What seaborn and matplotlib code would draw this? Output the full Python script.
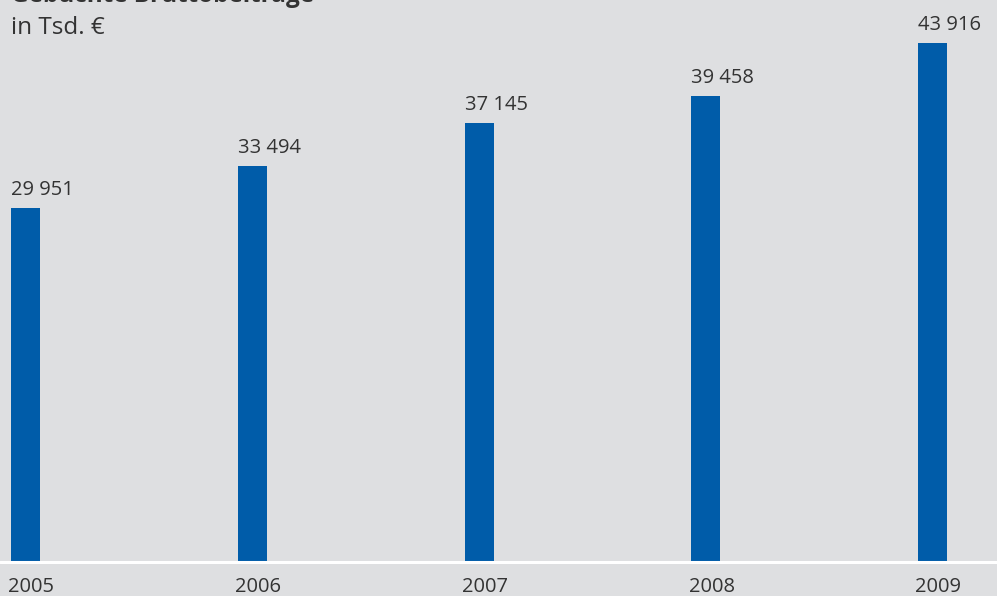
import pandas as pd
import matplotlib.pyplot as plt
import seaborn as sns

# Gebuchte Bruttobeiträge in Tsd. €
years = ["2005", "2006", "2007", "2008", "2009"]
values = [29951, 33494, 37145, 39458, 43916]
value_labels = ["29 951", "33 494", "37 145", "39 458", "43 916"]

df = pd.DataFrame({"Jahr": years, "Wert": values})

bg = "#dedfe1"
blue = "#005ca9"
text_col = "#333333"

sns.set_theme(style="white")
plt.rcParams["font.family"] = ["Open Sans", "DejaVu Sans"]

fig = plt.figure(figsize=(9.97, 5.96), dpi=100, facecolor=bg)
ax = fig.add_axes([0, 0.057, 1, 0.943])
ax.set_facecolor(bg)

bw = 0.128
sns.barplot(data=df, x="Jahr", y="Wert", order=years, color=blue,
            width=bw, saturation=1, edgecolor="none", linewidth=0, ax=ax)

ax.set_xlim(-0.1125, 4.284)
ax.set_ylim(0, 47590)
for s in ax.spines.values():
    s.set_visible(False)
ax.set_yticks([])
ax.set_xlabel("")
ax.set_ylabel("")

# value labels above bars, left aligned with bar edge
for i, (v, lab) in enumerate(zip(values, value_labels)):
    ax.annotate(lab, (i - bw / 2, v), xytext=(0, 9.5), textcoords="offset points",
                ha="left", va="baseline", fontsize=14.5, color=text_col)

# year labels below the baseline
ax.set_xticks([i - bw / 2 - 0.012 for i in range(len(years))])
ax.set_xticklabels(years, ha="left", fontsize=14.5, color=text_col)
ax.tick_params(axis="x", length=0, pad=11)

ax.axhline(0, color="white", lw=2.2, clip_on=False)

fig.text(0.011, 0.996, "Gebuchte Bruttobeiträge", ha="left", va="baseline",
         fontsize=17.5, fontweight="bold", color=text_col)
fig.text(0.011, 0.943, "in Tsd. €", ha="left", va="baseline",
         fontsize=17.5, color=text_col)

fig.savefig("out.png", dpi=100, facecolor=bg)
